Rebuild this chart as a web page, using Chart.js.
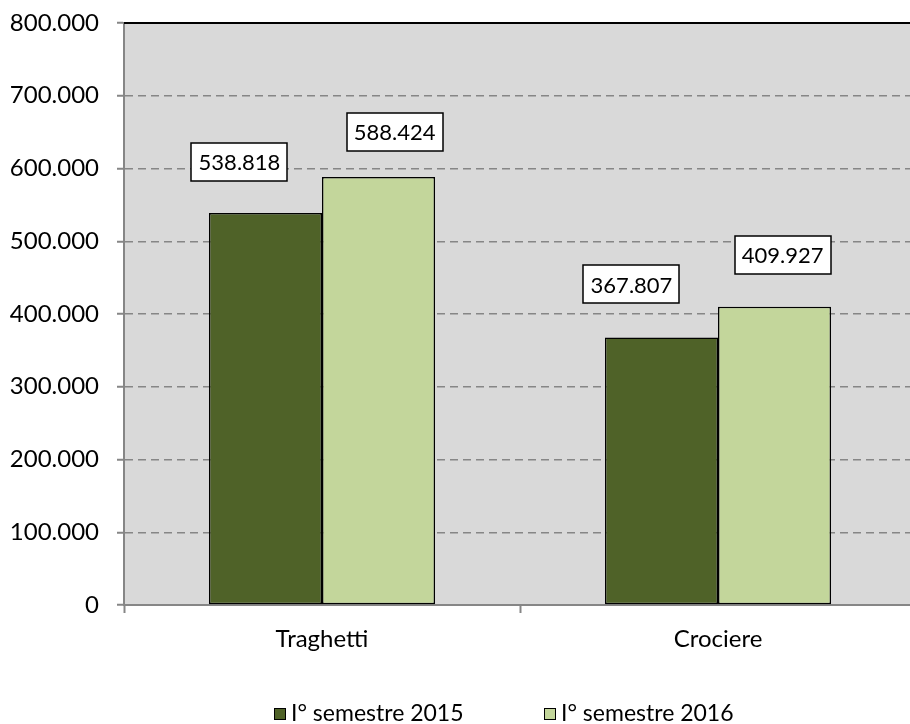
<!DOCTYPE html>
<html>
<head>
<meta charset="utf-8">
<script src="https://cdn.jsdelivr.net/npm/chart.js@4/dist/chart.umd.min.js"></script>
<style>
  html, body { margin: 0; padding: 0; background: #fff; overflow: hidden; }
  #wrap { position: relative; width: 910px; height: 724px; overflow: hidden; }
  canvas { position: absolute; left: 0; top: 0; }
</style>
</head>
<body>
<div id="wrap"><canvas id="c" width="916" height="724"></canvas></div>
<script>
// ---- data ----
const categories = ['Traghetti', 'Crociere'];
const seriesNames = ['I° semestre 2015', 'I° semestre 2016'];
const values2015 = [538818, 367807];
const values2016 = [588424, 409927];
const yTicks = [0, 100000, 200000, 300000, 400000, 500000, 600000, 700000, 800000];

// ---- styling ----
const FONT = 'Lato, "Open Sans", sans-serif';
const FONT_SIZE = 24;
const LABEL_FONT_SIZE = 22;
const LEGEND_FONT_SIZE = 23;
const colors = ['#4F6228', '#C3D69B'];
const gridGray = '#868686';
// label box offsets (dx, dy) relative to top-centre of each bar, per dataset
const labelOffsets = [
  [[-26, -51], [-30, -53]],
  [[16, -45], [8, -52]]
];
const legendBoxX = [274, 544];

function fmt(v) {
  const s = Math.round(v).toString();
  return s.replace(/\B(?=(\d{3})+(?!\d))/g, '.');
}

const plotBg = {
  id: 'plotBg',
  beforeDraw(chart) {
    const {ctx, chartArea: a} = chart;
    ctx.save();
    ctx.fillStyle = '#D9D9D9';
    ctx.fillRect(a.left, a.top, a.right - a.left, a.bottom - a.top);
    ctx.restore();
  },
  afterDraw(chart) {
    const {ctx, chartArea: a} = chart;
    ctx.save();
    ctx.strokeStyle = '#000';
    ctx.lineWidth = 2;
    ctx.beginPath();
    ctx.moveTo(a.left, a.top);
    ctx.lineTo(a.right, a.top);
    ctx.stroke();
    ctx.restore();
  }
};

const boxLabels = {
  id: 'boxLabels',
  afterDatasetsDraw(chart) {
    const ctx = chart.ctx;
    ctx.save();
    ctx.font = LABEL_FONT_SIZE + 'px ' + FONT;
    ctx.textAlign = 'center';
    ctx.textBaseline = 'middle';
    chart.data.datasets.forEach((ds, di) => {
      const meta = chart.getDatasetMeta(di);
      meta.data.forEach((bar, i) => {
        const txt = fmt(ds.data[i]);
        const off = labelOffsets[di][i];
        const cx = bar.x + off[0];
        const cy = bar.y + off[1];
        const w = 96;
        const h = 38;
        ctx.fillStyle = '#fff';
        ctx.fillRect(Math.round(cx - w / 2), Math.round(cy - h / 2), w, h);
        ctx.strokeStyle = '#000';
        ctx.lineWidth = 1.5;
        ctx.strokeRect(Math.round(cx - w / 2), Math.round(cy - h / 2), w, h);
        ctx.fillStyle = '#000';
        ctx.fillText(txt, cx, cy + 1);
      });
    });
    ctx.restore();
  }
};

const customLegend = {
  id: 'customLegend',
  afterDraw(chart) {
    const ctx = chart.ctx;
    ctx.save();
    ctx.font = LEGEND_FONT_SIZE + 'px ' + FONT;
    ctx.textBaseline = 'alphabetic';
    ctx.textAlign = 'left';
    const box = 12, gap = 5;
    const baseline = 721;
    chart.data.datasets.forEach((d, i) => {
      const x = legendBoxX[i];
      ctx.fillStyle = d.backgroundColor;
      ctx.fillRect(x, baseline - 13, box, box);
      ctx.strokeStyle = '#000';
      ctx.lineWidth = 1;
      ctx.strokeRect(x + 0.5, baseline - 12.5, box - 1, box - 1);
      ctx.fillStyle = '#000';
      ctx.fillText(d.label, x + box + gap, baseline);
    });
    ctx.restore();
  }
};

new Chart(document.getElementById('c'), {
  type: 'bar',
  data: {
    labels: categories,
    datasets: [
      { label: seriesNames[0], data: values2015, backgroundColor: colors[0], borderColor: '#000', borderWidth: 1.5, borderSkipped: false },
      { label: seriesNames[1], data: values2016, backgroundColor: colors[1], borderColor: '#000', borderWidth: 1.5, borderSkipped: false }
    ]
  },
  options: {
    responsive: false,
    devicePixelRatio: 1,
    animation: false,
    layout: { padding: { top: 23, left: 0, right: 0, bottom: 0 } },
    plugins: { legend: { display: false }, tooltip: { enabled: false } },
    datasets: { bar: { categoryPercentage: 0.571, barPercentage: 1.0 } },
    scales: {
      x: {
        grid: { display: true, drawOnChartArea: false, drawTicks: true, tickLength: 8, tickColor: gridGray, tickWidth: 2, offset: true },
        border: { display: true, color: gridGray, width: 2 },
        ticks: { color: '#000', font: { family: FONT, size: FONT_SIZE }, padding: 12, maxRotation: 0 },
        afterFit(scale) { scale.height = 119; scale.paddingLeft = 0; scale.paddingRight = 0; }
      },
      y: {
        min: 0, max: 800000,
        afterBuildTicks(scale) { scale.ticks = yTicks.map(v => ({ value: v })); },
        grid: {
          color: ctx => (ctx.tick && (ctx.tick.value === 0 || ctx.tick.value === 800000)) ? 'rgba(0,0,0,0)' : gridGray,
          lineWidth: 1.5, drawTicks: true, tickLength: 7, tickColor: gridGray, tickWidth: 2
        },
        border: { display: true, color: gridGray, width: 2, dash: [8, 5] },
        ticks: { color: '#000', font: { family: FONT, size: FONT_SIZE }, padding: 18, callback: v => fmt(v) },
        afterFit(scale) { scale.width = 124; scale.paddingTop = 0; scale.paddingBottom = 0; }
      }
    }
  },
  plugins: [plotBg, boxLabels, customLegend]
});
</script>
</body>
</html>
